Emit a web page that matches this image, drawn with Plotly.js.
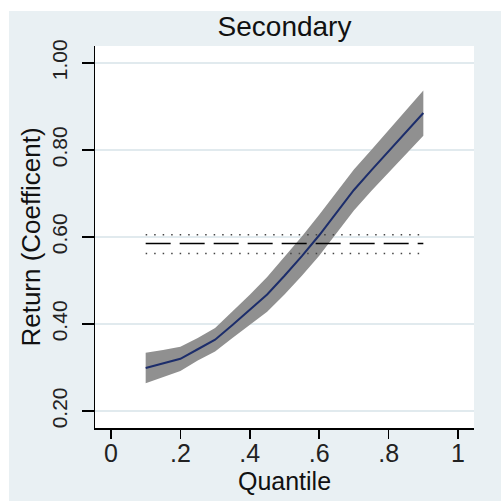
<!DOCTYPE html>
<html>
<head>
<meta charset="utf-8">
<script src="https://cdn.plot.ly/plotly-3.0.1.min.js"></script>
<style>
  html, body { margin: 0; padding: 0; background: #ffffff; width: 501px; height: 501px; overflow: hidden; }
  #chart { position: absolute; left: 9px; top: 11px; width: 492px; height: 490px; }
</style>
</head>
<body>
<div id="chart"></div>
<script>
// Quantile regression coefficients (Secondary)
const quantiles = [0.10, 0.15, 0.20, 0.25, 0.30, 0.35, 0.40, 0.45, 0.50, 0.55, 0.60, 0.65, 0.70, 0.75, 0.80, 0.85, 0.90];
const coef      = [0.299, 0.309, 0.320, 0.342, 0.364, 0.398, 0.432, 0.468, 0.511, 0.556, 0.604, 0.655, 0.708, 0.753, 0.797, 0.841, 0.885];
const ciLower   = [0.264, 0.278, 0.292, 0.316, 0.337, 0.368, 0.397, 0.428, 0.468, 0.511, 0.557, 0.608, 0.661, 0.706, 0.749, 0.791, 0.833];
const ciUpper   = [0.334, 0.340, 0.348, 0.368, 0.391, 0.428, 0.467, 0.508, 0.554, 0.601, 0.651, 0.702, 0.755, 0.800, 0.845, 0.891, 0.937];

// OLS estimate and its confidence interval (horizontal reference lines)
const olsRange = [0.10, 0.90];
const olsCoef  = 0.585;
const olsLower = 0.562;
const olsUpper = 0.605;

const xTickVals  = [0, 0.2, 0.4, 0.6, 0.8, 1];
const xTickText  = ['0', '.2', '.4', '.6', '.8', '1'];
const yTickVals  = [0.2, 0.4, 0.6, 0.8, 1.0];
const yTickText  = ['0.20', '0.40', '0.60', '0.80', '1.00'];

const FONT = 'Liberation Sans, Arial, sans-serif';

const traces = [
  { x: quantiles, y: ciLower, mode: 'lines', line: { width: 0, color: '#909090' }, hoverinfo: 'skip', showlegend: false },
  { x: quantiles, y: ciUpper, mode: 'lines', fill: 'tonexty', fillcolor: '#909090', line: { width: 0, color: '#909090' }, hoverinfo: 'skip', showlegend: false },
  { x: olsRange, y: olsRange.map(() => olsUpper), mode: 'lines', line: { color: '#444444', width: 1.5, dash: '1.5px,7px' }, showlegend: false },
  { x: olsRange, y: olsRange.map(() => olsLower), mode: 'lines', line: { color: '#444444', width: 1.5, dash: '1.5px,7px' }, showlegend: false },
  { x: olsRange, y: olsRange.map(() => olsCoef), mode: 'lines', line: { color: '#000000', width: 1.5, dash: '25px,9px' }, showlegend: false },
  { x: quantiles, y: coef, mode: 'lines', line: { color: '#1c2d6b', width: 2 }, showlegend: false }
];

const layout = {
  width: 492, height: 490,
  paper_bgcolor: '#e9f0f3',
  plot_bgcolor: '#ffffff',
  margin: { l: 86, r: 27, t: 35, b: 73 },
  showlegend: false,
  title: { text: 'Secondary', font: { family: FONT, size: 28, color: '#111111' }, xref: 'paper', x: 0.5, xanchor: 'center', y: 0.968, yanchor: 'middle' },
  xaxis: {
    range: [-0.046, 1.046],
    tickmode: 'array', tickvals: xTickVals, ticktext: xTickText,
    ticks: 'outside', ticklen: 9, tickwidth: 1.5, tickcolor: '#000000',
    ticklabelstandoff: -7,
    showline: true, linecolor: '#000000', linewidth: 1.5,
    showgrid: false, zeroline: false,
    tickfont: { family: FONT, size: 25, color: '#222222' },
    title: { text: 'Quantile', font: { family: FONT, size: 25, color: '#111111' }, standoff: 1 }
  },
  yaxis: {
    range: [0.161, 1.039],
    tickmode: 'array', tickvals: yTickVals, ticktext: yTickText,
    tickangle: -90,
    ticks: 'outside', ticklen: 12, tickwidth: 1.5, tickcolor: '#000000',
    ticklabelstandoff: 6,
    showline: true, linecolor: '#000000', linewidth: 1.5,
    showgrid: true, gridcolor: '#e1eaee', gridwidth: 1.5, zeroline: false,
    tickfont: { family: FONT, size: 21, color: '#222222' },
    title: { text: 'Return (Coefficent)', font: { family: FONT, size: 26, color: '#111111' }, standoff: 0 }
  }
};

Plotly.newPlot('chart', traces, layout, { displayModeBar: false, staticPlot: true });
</script>
</body>
</html>
